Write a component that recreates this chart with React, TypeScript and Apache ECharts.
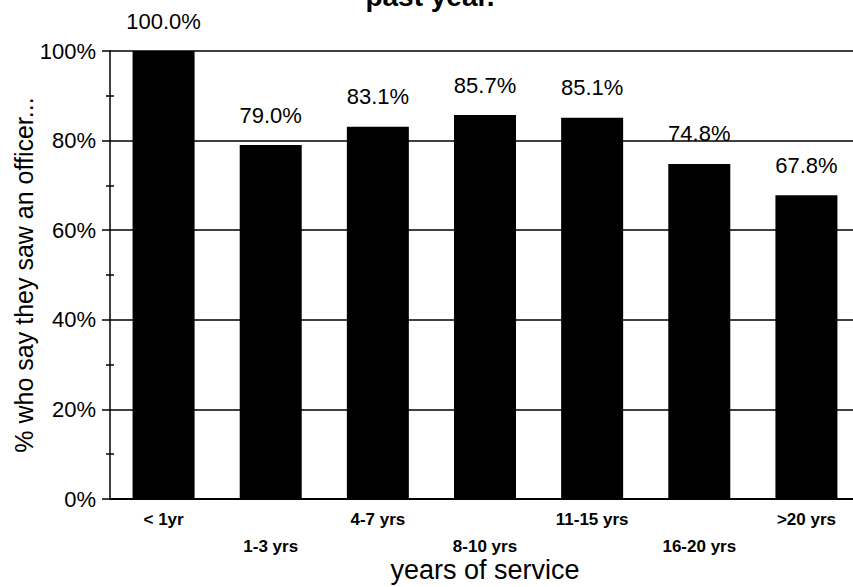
import React, { useEffect, useRef } from "react";
import * as echarts from "echarts";

const categories = ["< 1yr", "1-3 yrs", "4-7 yrs", "8-10 yrs", "11-15 yrs", "16-20 yrs", ">20 yrs"];
const values = [100.0, 79.0, 83.1, 85.7, 85.1, 74.8, 67.8];
const yTicks = [0, 20, 40, 60, 80, 100];

export default function App() {
  const ref = useRef<HTMLDivElement>(null);
  useEffect(() => {
    if (!ref.current) return;
    const chart = echarts.init(ref.current, null, { renderer: "svg" });
    const font = "Liberation Sans, Arial, sans-serif";
    chart.setOption({
      animation: false,
      backgroundColor: "#fff",
      textStyle: { fontFamily: font, color: "#000" },
      graphic: [
        {
          type: "text",
          x: 430,
          y: -4,
          style: {
            text: "past year.",
            fontSize: 28,
            fontWeight: "bold",
            fontFamily: font,
            fill: "#000",
            textAlign: "center",
            textVerticalAlign: "middle",
          },
        },
      ],
      grid: { left: 110, right: -7, top: 51, bottom: 88, containLabel: false, outerBoundsMode: "none" },
      xAxis: {
        type: "category",
        data: categories,
        axisTick: { show: false },
        axisLine: { show: true, lineStyle: { color: "#000", width: 2 } },
        axisLabel: {
          interval: 0,
          color: "#000",
          fontSize: 17,
          fontWeight: "bold",
          fontFamily: font,
          lineHeight: 27,
          margin: 7,
          formatter: (v: string, i: number) => (i % 2 === 1 ? "\n" + v : v),
        },
        name: "years of service",
        nameLocation: "middle",
        nameGap: 57,
        nameMoveOverlap: false,
        nameTextStyle: { fontSize: 27, color: "#000", fontFamily: font },
      },
      yAxis: [
        {
          type: "value",
          min: yTicks[0],
          max: yTicks[yTicks.length - 1],
          interval: 20,
          axisLine: { show: true, lineStyle: { color: "#000", width: 1.5 } },
          axisTick: { show: true, length: 8, lineStyle: { color: "#000", width: 1.5 } },
          minorTick: { show: true, splitNumber: 2, length: 4, lineStyle: { color: "#000", width: 1.5 } },
          splitLine: { show: true, lineStyle: { color: "#000", width: 1.5 } },
          axisLabel: { color: "#000", fontSize: 22, fontFamily: font, margin: 14, formatter: "{value}%" },
          name: "% who say they saw an officer...",
          nameLocation: "middle",
          nameGap: 74,
          nameMoveOverlap: false,
          nameRotate: 90,
          nameTextStyle: { fontSize: 25, color: "#000", fontFamily: font },
        },
        {
          type: "value",
          position: "left",
          min: yTicks[0],
          max: yTicks[yTicks.length - 1],
          interval: 20,
          axisLine: { show: false },
          axisTick: { show: false, inside: true },
          minorTick: { show: true, splitNumber: 2, length: 4, lineStyle: { color: "#000", width: 1.5 } },
          splitLine: { show: false },
          axisLabel: { show: false },
        },
      ],
      series: [
        {
          type: "bar",
          data: values,
          barWidth: 62,
          itemStyle: { color: "#000" },
          label: {
            show: true,
            position: "top",
            distance: 19,
            color: "#000",
            fontSize: 22,
            fontFamily: font,
            formatter: (p: any) => p.value.toFixed(1) + "%",
          },
        },
      ],
    });
    return () => chart.dispose();
  }, []);
  return (
    <div
      ref={ref}
      style={{ position: "absolute", left: 0, top: 0, width: 853, height: 587, overflow: "hidden" }}
    />
  );
}
